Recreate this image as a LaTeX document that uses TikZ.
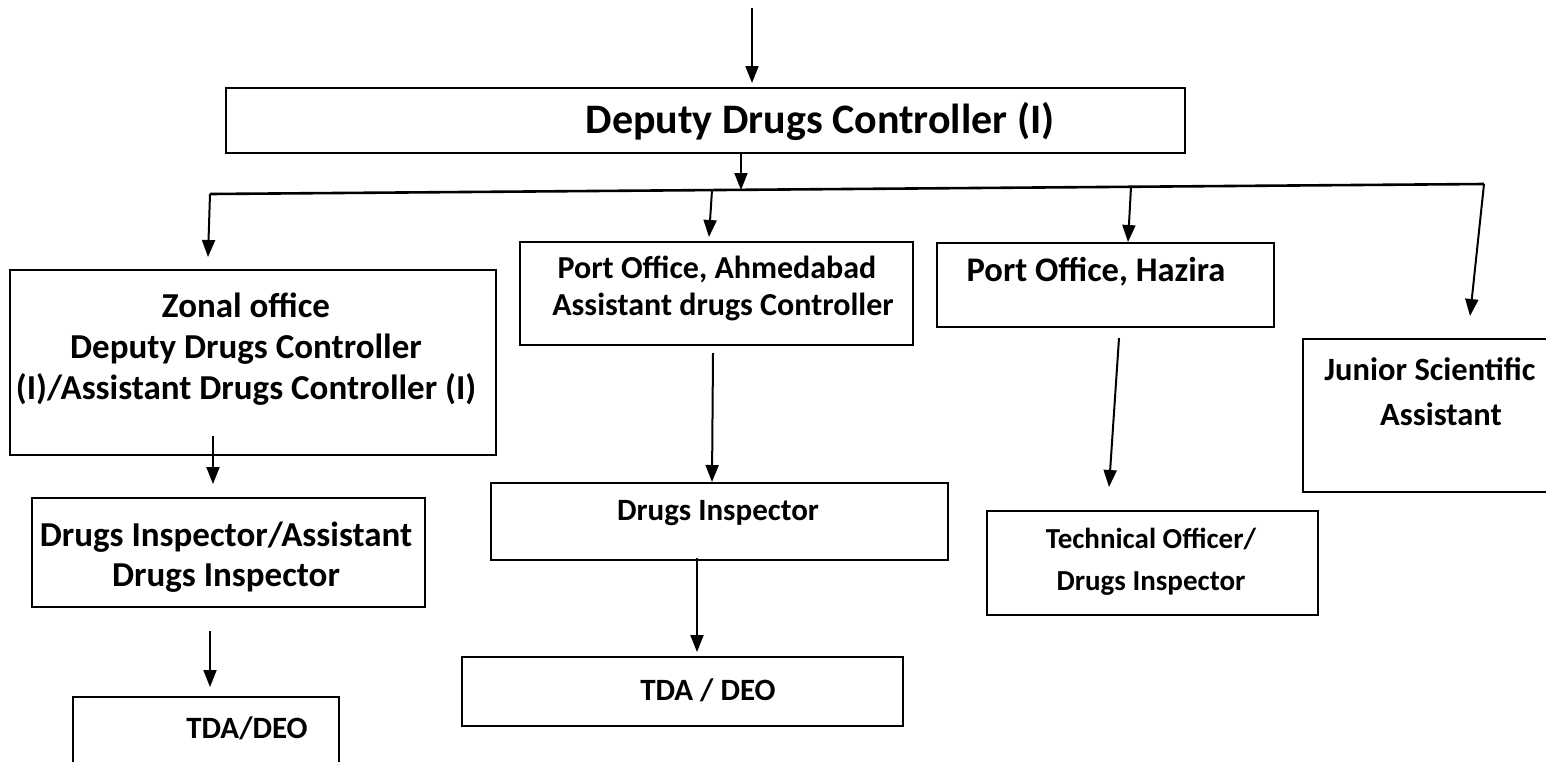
\documentclass[tikz,border=0pt]{standalone}
\usepackage{fontspec}
\setmainfont{Carlito}
\usetikzlibrary{arrows.meta,fit}
\begin{document}
\begin{tikzpicture}[x=1pt,y=-1pt,
  box/.style={draw, line width=2pt, rectangle, inner sep=0pt},
  lbl/.style={font=\bfseries\fontsize{31}{37}\selectfont, align=center, inner sep=0pt},
  arr/.style={line width=2pt, -{Triangle[width=13pt,length=17pt]}},
  trunk/.style={line width=2.6pt}]
\useasboundingbox (0,0) rectangle (1546,761);
\clip (0,0) rectangle (1546,761);

% boxes
\node[box, fit={(226,88) (1185,153)}] (ddc) {};
\node[box, fit={(10,270) (496,455)}] (zonal) {};
\node[box, fit={(520,242) (913,345)}] (ahm) {};
\node[box, fit={(937,243) (1274,327)}] (haz) {};
\node[box, fit={(1303,339) (1550,492)}] (jsa) {};
\node[box, fit={(32,498) (425,607)}] (dia) {};
\node[box, fit={(491,483) (948,560)}] (dim) {};
\node[box, fit={(987,511) (1318,615)}] (tech) {};
\node[box, fit={(462,657) (903,726)}] (tdam) {};
\node[box, fit={(73,697) (339,770)}] (tdal) {};

% labels
\node[lbl, font=\bfseries\fontsize{42}{50}\selectfont] (ddc-t) at (820,121) {Deputy Drugs Controller (I)};
\node[lbl, font=\bfseries\fontsize{35}{41}\selectfont] (zonal-t) at (246,349) {Zonal office\\Deputy Drugs Controller\\(I)/Assistant Drugs Controller (I)};
\node[lbl, font=\bfseries\fontsize{32}{37}\selectfont] (ahm-t) at (717,288) {Port Office, Ahmedabad\\\hspace*{12pt}Assistant drugs Controller};
\node[lbl, font=\bfseries\fontsize{34.5}{40}\selectfont] (haz-t) at (1096,272) {Port Office, Hazira};
\node[lbl, font=\bfseries\fontsize{32.5}{45}\selectfont] (jsa-t) at (1430,392) {Junior Scientific\\\hspace*{22pt}Assistant};
\node[lbl, font=\bfseries\fontsize{35}{40}\selectfont] (dia-t) at (226,557.5) {Drugs Inspector/Assistant\\Drugs Inspector};
\node[lbl] (dim-t) at (718,513) {Drugs Inspector};
\node[lbl, font=\bfseries\fontsize{29}{42}\selectfont] (tech-t) at (1151,562) {Technical Officer/\\Drugs Inspector};
\node[lbl] (tdam-t) at (708,690) {TDA / DEO};
\node[lbl] (tdal-t) at (247,728) {TDA/DEO};

% trunk and branch points
\coordinate (src) at (752,8);
\coordinate (hub) at (741,190);
\coordinate (bl) at (210,194);
\coordinate (br) at (1484,184);
\coordinate (b-ahm) at (712,190);
\coordinate (b-haz) at (1131,187);
\draw[trunk] (bl) -- (br);

% connectors
\draw[arr] (src) -- ([xshift=46.5pt,yshift=4pt]ddc.north);
\draw[arr] ([xshift=35.5pt]ddc.south) -- (hub);
\draw[arr] (bl) -- ([xshift=-45pt,yshift=12pt]zonal.north);
\draw[arr] (b-ahm) -- ([xshift=-7.5pt,yshift=4pt]ahm.north);
\draw[arr] (b-haz) -- ([xshift=22.5pt]haz.north);
\draw[arr] (br) -- ([xshift=43.5pt,yshift=22pt]jsa.north);
\draw[arr] ([xshift=-40pt,yshift=20pt]zonal.south) -- ([xshift=-15.5pt,yshift=13pt]dia.north);
\draw[arr] ([xshift=-18.5pt,yshift=-23pt]dia.south) -- ([xshift=4pt,yshift=9pt]tdal.north);
\draw[arr] ([xshift=-3.5pt,yshift=-7pt]ahm.south) -- ([xshift=-7.5pt]dim.north);
\draw[arr] ([xshift=-22.5pt,yshift=3pt]dim.south) -- ([xshift=14.5pt,yshift=4pt]tdam.north);
\draw[arr] ([xshift=13.5pt,yshift=-10pt]haz.south) -- ([xshift=-43.5pt,yshift=23pt]tech.north);
\end{tikzpicture}
\end{document}
